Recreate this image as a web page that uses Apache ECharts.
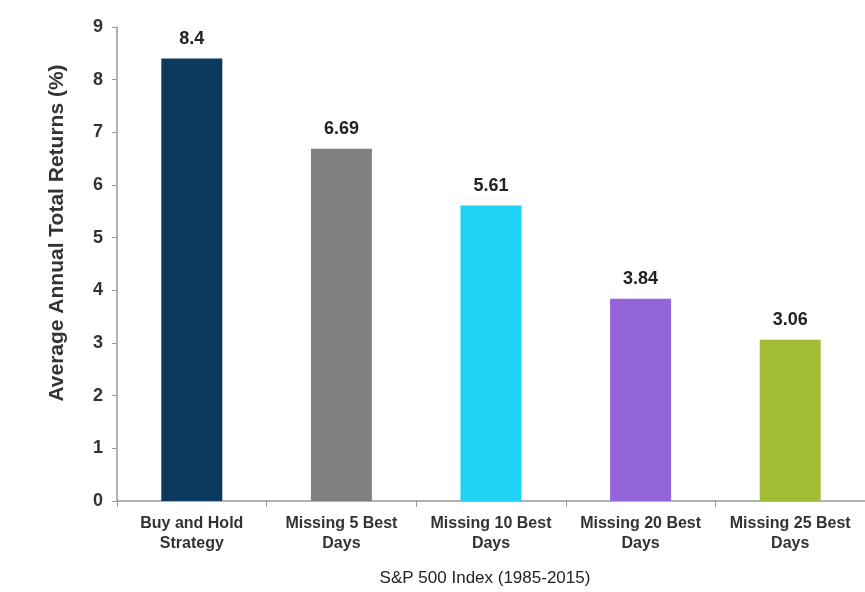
<!DOCTYPE html>
<html><head><meta charset="utf-8">
<script src="https://cdn.jsdelivr.net/npm/echarts@6/dist/echarts.min.js"></script>
<style>html,body{margin:0;padding:0;background:#fff}#c{width:865px;height:592px}</style>
</head><body><div id="c"></div>
<script>
const categories = ["Buy and Hold\nStrategy", "Missing 5 Best\nDays", "Missing 10 Best\nDays", "Missing 20 Best\nDays", "Missing 25 Best\nDays"];
const values = [8.4, 6.69, 5.61, 3.84, 3.06];
const colors = ["#0C3A5F", "#7E8081", "#1DD2F2", "#9464DA", "#A1BC36"];
const yTicks = [0,1,2,3,4,5,6,7,8,9];

const chart = echarts.init(document.getElementById('c'));
chart.setOption({
  animation: false,
  backgroundColor: '#fff',
  grid: {left: 117, right: -2, top: 27, bottom: 90},
  xAxis: {
    type: 'category',
    data: categories,
    name: 'S&P 500 Index (1985-2015)',
    nameLocation: 'middle',
    nameGap: 69,
    nameTextStyle: {fontFamily: 'Liberation Sans', fontSize: 17, color: '#222', padding: [0, 12, 0, 0]},
    axisLine: {lineStyle: {color: '#999', width: 1.5}},
    axisTick: {show: true, interval: 0, alignWithLabel: false, length: 6, lineStyle: {color: '#999'}},
    axisLabel: {interval: 0, hideOverlap: false, fontFamily: 'Liberation Sans', fontSize: 16, fontWeight: 'bold', color: '#333', margin: 13, lineHeight: 20}
  },
  yAxis: {
    type: 'value',
    min: 0, max: 9, interval: 1,
    name: 'Average Annual Total Returns (%)',
    nameLocation: 'middle',
    nameGap: 49,
    nameTextStyle: {fontFamily: 'Liberation Sans', fontSize: 21, fontWeight: 'bold', color: '#333', padding: [0, 0, 0, 62]},
    axisLine: {show: true, lineStyle: {color: '#999', width: 1.5}},
    axisTick: {show: true, length: 5, lineStyle: {color: '#999'}},
    splitLine: {show: false},
    axisLabel: {fontFamily: 'Liberation Sans', fontSize: 18, fontWeight: 'bold', color: '#333', margin: 14,
      formatter: v => yTicks.includes(v) ? String(v) : ''}
  },
  series: [{
    type: 'bar',
    barWidth: 61,
    data: values.map((v, i) => ({value: v, itemStyle: {color: colors[i]}})),
    label: {show: true, position: 'top', distance: 11, fontFamily: 'Liberation Sans', fontSize: 18, fontWeight: 'bold', color: '#222',
      formatter: p => String(values[p.dataIndex])}
  }]
});
</script></body></html>
